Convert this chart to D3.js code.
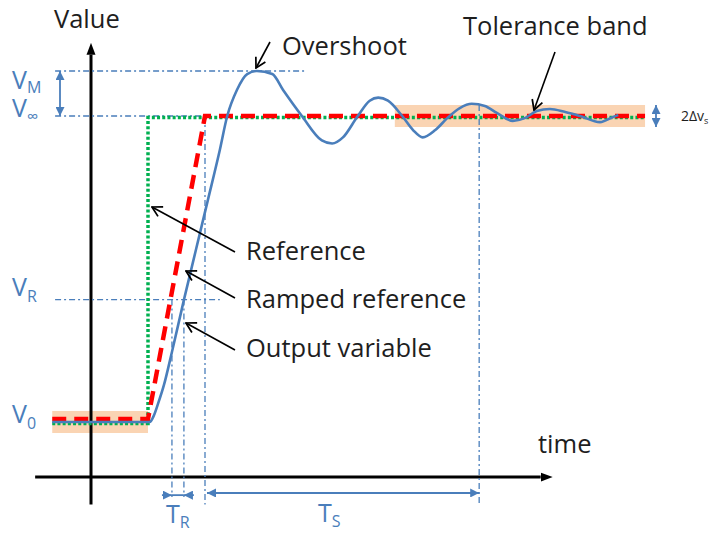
<!DOCTYPE html>
<html>
<head>
<meta charset="utf-8">
<script src="https://cdn.jsdelivr.net/npm/d3@7"></script>
<style>
  body { margin: 0; background: #fff; }
  svg { display: block; }
</style>
</head>
<body>
<div id="chart"></div>
<script>
const width = 717;
const height = 535;

// time in step units (step at t = 1), value normalised so V0 = 0 and Vinf = 1
const outT = [-0.68, 1.03, 1.10, 1.175, 1.28, 1.42, 1.63, 1.84, 2.05, 2.26, 2.39, 2.56, 2.74, 2.91,
              3.18, 3.37, 3.70, 4.05, 4.23, 4.42, 4.68, 4.89, 5.04, 5.21, 5.46, 5.65, 5.82, 6.04,
              6.25, 6.47, 6.68, 6.91, 7.12, 7.40, 7.61, 7.82, 8.05, 8.32, 8.58, 8.93, 9.16, 9.25];
const outV = [0, 0, 0.02, 0.059, 0.121, 0.229, 0.399, 0.562, 0.725, 0.889, 1.0, 1.085, 1.137, 1.147,
              1.137, 1.085, 1.0, 0.92, 0.91, 0.93, 1.0, 1.05, 1.06, 1.05, 1.0, 0.954, 0.93, 0.954,
              0.993, 1.026, 1.04, 1.033, 1.01, 0.984, 0.993, 1.016, 1.023, 1.013, 1.0, 0.98, 0.997, 1.003];

const refT = [-0.68, 1.0, 1.0, 9.72];
const refV = [-0.005, -0.005, 0.995, 0.995];

const rampT = [-0.68, 1.0, 2.0, 9.72];
const rampV = [0.01, 0.01, 1.0, 1.0];

// tolerance bands
const bandStart = [-0.68, 5.33];
const bandEnd = [1.0, 9.72];
const bandLevel = [0, 1];
const bandHalf = 0.036;

// horizontal guide levels
const levelNames = ["M", "∞", "R", "0"];
const levelValues = [1.147, 1.0, 0.40, 0];
const levelEnds = [3.79, 2.0, 2.26, null];

// vertical guides
const guideT = [1.42, 1.63, 2.0, 6.81];
const guideTop = [0.40, 0.40, 1.0, 1.036];
const guideBottom = [-0.245, -0.245, -0.27, -0.27];

const axisLevel = -0.18;

const x = d3.scaleLinear().domain([0, 1]).range([91, 148]);
const y = d3.scaleLinear().domain([0, 1]).range([422, 116]);

const blue = "#4a7ebb";
const font = "'Open Sans', Lato, sans-serif";

const svg = d3.select("#chart").append("svg")
    .attr("width", width)
    .attr("height", height)
    .style("font-family", font);

const defs = svg.append("defs");

defs.append("marker")
    .attr("id", "axisHead")
    .attr("viewBox", "0 0 12 10")
    .attr("refX", 0).attr("refY", 5)
    .attr("markerWidth", 12).attr("markerHeight", 10)
    .attr("markerUnits", "userSpaceOnUse")
    .attr("orient", "auto")
    .append("path").attr("d", "M0,0.5L12,5L0,9.5Z").attr("fill", "#000");

defs.append("marker")
    .attr("id", "dimHead")
    .attr("viewBox", "0 0 10 10")
    .attr("refX", 10).attr("refY", 5)
    .attr("markerWidth", 9).attr("markerHeight", 9)
    .attr("markerUnits", "userSpaceOnUse")
    .attr("orient", "auto-start-reverse")
    .append("path").attr("d", "M0,0L10,5L0,10Z").attr("fill", blue);

defs.append("marker")
    .attr("id", "noteHead")
    .attr("viewBox", "0 0 12 12")
    .attr("refX", 11).attr("refY", 6)
    .attr("markerWidth", 13).attr("markerHeight", 13)
    .attr("markerUnits", "userSpaceOnUse")
    .attr("orient", "auto")
    .append("path").attr("d", "M2,1L11,6L2,11")
    .attr("fill", "none").attr("stroke", "#000").attr("stroke-width", 1.6);

// tolerance bands
svg.selectAll(".band")
    .data(bandStart.map((s, i) => ({ s, e: bandEnd[i], v: bandLevel[i] })))
    .enter().append("rect")
    .attr("class", "band")
    .attr("x", d => x(d.s))
    .attr("width", d => x(d.e) - x(d.s))
    .attr("y", d => y(d.v + bandHalf))
    .attr("height", d => y(d.v - bandHalf) - y(d.v + bandHalf))
    .attr("fill", "#f9c9a0")
    .attr("opacity", 0.8);

// axes
svg.append("line")
    .attr("x1", x(-0.98)).attr("y1", y(axisLevel))
    .attr("x2", x(8.1) - 12).attr("y2", y(axisLevel))
    .attr("stroke", "#000").attr("stroke-width", 3)
    .attr("marker-end", "url(#axisHead)");

svg.append("line")
    .attr("x1", x(0)).attr("y1", y(-0.27))
    .attr("x2", x(0)).attr("y2", y(1.239) + 12)
    .attr("stroke", "#000").attr("stroke-width", 3)
    .attr("marker-end", "url(#axisHead)");

// dash-dot guides
const dashDot = "6 3 2 3";
levelValues.forEach((v, i) => {
    if (levelEnds[i] === null) return;
    svg.append("line")
        .attr("x1", x(-0.63)).attr("x2", x(levelEnds[i]))
        .attr("y1", y(v)).attr("y2", y(v))
        .attr("stroke", blue).attr("stroke-width", 1.3)
        .attr("stroke-dasharray", dashDot);
});

guideT.forEach((t, i) => {
    svg.append("line")
        .attr("x1", x(t)).attr("x2", x(t))
        .attr("y1", y(guideTop[i])).attr("y2", y(guideBottom[i]))
        .attr("stroke", blue).attr("stroke-width", 1.3)
        .attr("stroke-dasharray", dashDot);
});

// curves
const line = d3.line().x(d => x(d[0])).y(d => y(d[1]));

svg.append("path")
    .datum(refT.map((t, i) => [t, refV[i]]))
    .attr("d", line)
    .attr("fill", "none")
    .attr("stroke", "#00b050")
    .attr("stroke-width", 3.5)
    .attr("stroke-dasharray", "3 2.2");

svg.append("path")
    .datum(rampT.map((t, i) => [t, rampV[i]]))
    .attr("d", line)
    .attr("fill", "none")
    .attr("stroke", "#ff0000")
    .attr("stroke-width", 4.5)
    .attr("stroke-dasharray", "14 8");

svg.append("path")
    .datum(outT.map((t, i) => [t, outV[i]]))
    .attr("d", line.curve(d3.curveMonotoneX))
    .attr("fill", "none")
    .attr("stroke", blue)
    .attr("stroke-width", 2.6);

// dimension arrows
function dim(x1, y1, x2, y2, start, end) {
    const l = svg.append("line")
        .attr("x1", x1).attr("y1", y1).attr("x2", x2).attr("y2", y2)
        .attr("stroke", blue).attr("stroke-width", 1.8);
    if (start) l.attr("marker-start", "url(#dimHead)");
    if (end) l.attr("marker-end", "url(#dimHead)");
}
dim(60, y(levelValues[0]), 60, y(levelValues[1]), true, true);
dim(656, y(1 + bandHalf), 656, y(1 - bandHalf), true, true);

const yTR = y(-0.239);
dim(x(guideT[0]) - 10, yTR, x(guideT[0]), yTR, false, true);
dim(x(guideT[1]) + 10, yTR, x(guideT[1]), yTR, false, true);
dim(x(guideT[0]), yTR, x(guideT[1]), yTR, false, false);

const yTS = y(-0.232);
dim(x(guideT[2]) + 2, yTS, x(guideT[3]), yTS, true, true);

// level labels
const levelBase = [89, 117, 296, 423];
const subShift = [4, 5, 6, 6];
levelNames.forEach((n, i) => {
    const t = svg.append("text")
        .attr("x", 12).attr("y", levelBase[i])
        .attr("fill", blue).attr("font-size", 25);
    t.append("tspan").text("V");
    t.append("tspan").attr("dy", subShift[i]).attr("font-size", 16).text(n);
});

// time labels
[["R", 166, 523], ["S", 318, 522]].forEach(([s, tx, ty]) => {
    const t = svg.append("text")
        .attr("x", tx).attr("y", ty)
        .attr("fill", blue).attr("font-size", 25);
    t.append("tspan").text("T");
    t.append("tspan").attr("dy", 5).attr("font-size", 16).text(s);
});

// black text labels
const notes = [
    { text: "Value", x: 54, y: 28 },
    { text: "time", x: 538, y: 453 },
    { text: "Overshoot", x: 282, y: 55 },
    { text: "Tolerance band", x: 463, y: 35 },
    { text: "Reference", x: 246, y: 260 },
    { text: "Ramped reference", x: 246, y: 308 },
    { text: "Output variable", x: 246, y: 357 }
];
svg.selectAll(".note")
    .data(notes)
    .enter().append("text")
    .attr("class", "note")
    .attr("x", d => d.x).attr("y", d => d.y)
    .attr("fill", "#1e1e1e")
    .attr("font-size", 25.5)
    .text(d => d.text);

const dv = svg.append("text")
    .attr("x", 681).attr("y", 121)
    .attr("fill", "#1e1e1e").attr("font-size", 14);
dv.append("tspan").text("2Δv");
dv.append("tspan").attr("dy", 3).attr("font-size", 9).text("s");

// pointer arrows
const pointers = [
    [270, 42, 256, 68],
    [555, 52, 534, 110],
    [235, 252, 152, 207],
    [235, 298, 186, 271],
    [235, 350, 186, 323]
];
svg.selectAll(".pointer")
    .data(pointers)
    .enter().append("line")
    .attr("class", "pointer")
    .attr("x1", d => d[0]).attr("y1", d => d[1])
    .attr("x2", d => d[2]).attr("y2", d => d[3])
    .attr("stroke", "#000").attr("stroke-width", 1.6)
    .attr("marker-end", "url(#noteHead)");
</script>
</body>
</html>
